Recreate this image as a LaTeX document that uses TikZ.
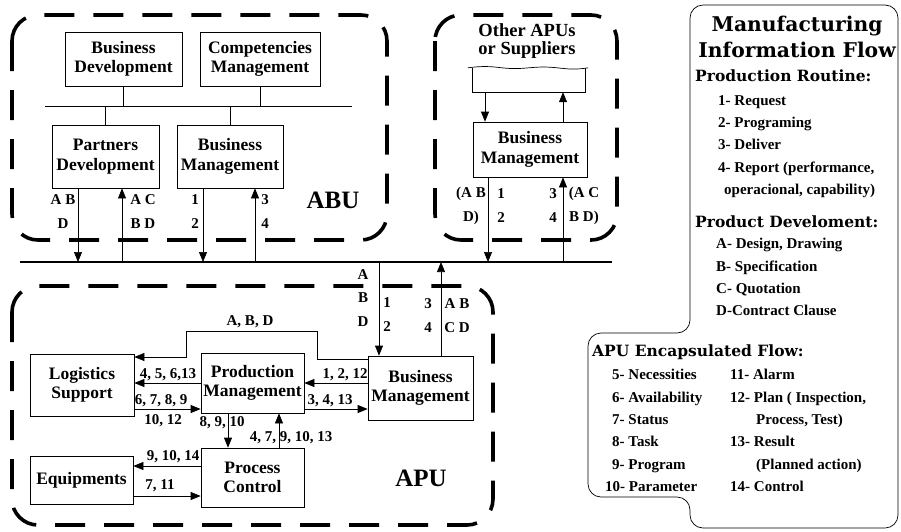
\documentclass[tikz,border=0pt]{standalone}
\usepackage{fontspec}
\setmainfont{Liberation Serif}
\newfontfamily\headfont{DejaVu Serif}
\usetikzlibrary{arrows.meta}
\tikzset{
  unit/.style={draw,line width=0.7pt,inner sep=0pt,align=center,
    font=\bfseries\fontsize{17.5}{19.5}\selectfont},
  zone/.style={line width=3.6pt,dash pattern=on 30pt off 19pt,rounded corners=26pt},
  link/.style={line width=0.7pt},
  bus/.style={line width=2pt},
  flow/.style={-{Triangle[length=10pt,width=8pt]},line width=0.7pt},
  lbl/.style={inner sep=0pt,align=center,font=\bfseries\fontsize{15}{24}\selectfont},
  tag/.style={inner sep=0pt,font=\bfseries\fontsize{25}{28}\selectfont},
  legend/.style={inner sep=0pt,anchor=west,align=left,
    font=\bfseries\fontsize{15}{22.4}\selectfont},
  legendhead/.style={inner sep=0pt,anchor=west,font=\headfont\bfseries\fontsize{15.5}{20}\selectfont}
}

\begin{document}
\begin{tikzpicture}[x=1pt,y=-1pt]
  \useasboundingbox (0,0) rectangle (901,531);
  % ABU
  \draw[zone] (12,15) rectangle (387,240);
  \node[unit,minimum width=117pt,minimum height=54pt] (bd) at (123.5,59) {Business\\Development};
  \node[unit,minimum width=120pt,minimum height=54pt] (cm) at (260,59) {Competencies\\Management};
  \node[unit,minimum width=107pt,minimum height=63pt] (pd) at (105.5,156.5) {Partners\\Development};
  \node[unit,minimum width=106pt,minimum height=63pt] (abm) at (230,156.5) {Business\\Management};
  \coordinate (orgL) at (45,106);
  \coordinate (orgR) at (352,106);
  \draw[link] (orgL) -- (orgR);
  \draw[link] (bd.south) -- (bd.south |- orgL);
  \draw[link] (cm.south) -- (cm.south |- orgL);
  \draw[link] (pd.north) -- (pd.north |- orgL);
  \draw[link] (abm.north) -- (abm.north |- orgL);
  \node[tag] (abu) at (333,200) {ABU};

  \coordinate (busL) at (20,262);
  \coordinate (busR) at (612,262);
  \draw[bus] (busL) -- (busR);

  \draw[flow] (pd.south -| 78,0) -- (busL -| 78,0);
  \draw[flow] (busL -| 122,0) -- (pd.south -| 122,0);
  \draw[flow] (abm.south -| 203,0) -- (busL -| 203,0);
  \draw[flow] (busL -| 255,0) -- (abm.south -| 255,0);
  \node[lbl] (abuab) at (63,212) {A B\\D};
  \node[lbl] (abuac) at (143,212) {A C\\B D};
  \node[lbl] (abu12) at (195,212) {1\\2};
  \node[lbl] (abu34) at (265,212) {3\\4};

  % other APUs
  \draw[zone] (435,15) rectangle (617,240);
  \node[inner sep=0pt,align=center,font=\bfseries\fontsize{18.5}{18}\selectfont] (other) at (527,41) {Other APUs\\or Suppliers};
  \node[minimum width=112pt,minimum height=24pt,inner sep=0pt] (src) at (529,80) {};
  \draw[link] (src.north west) -- (src.south west) -- (src.south east) -- (src.north east);
  \draw[link] ([xshift=-5pt]src.north west) .. controls +(30,-4) and +(-30,3) .. (src.north)
    .. controls +(30,-3) and +(-25,4) .. ([xshift=3pt]src.north east);
  \node[unit,minimum width=114pt,minimum height=55pt] (obm) at (530,149.5) {Business\\Management};
  \draw[flow] (src.south -| 485,0) -- (obm.north -| 485,0);
  \draw[flow] (obm.north -| 563,0) -- (src.south -| 563,0);
  \draw[flow] (obm.south -| 488,0) -- (busL -| 488,0);
  \draw[flow] (busR -| 563,0) -- (obm.south -| 563,0);
  \node[lbl] (oab) at (471,206) {(A B\\D)};
  \node[lbl] (o12) at (501,206) {1\\2};
  \node[lbl] (o34) at (553,206) {3\\4};
  \node[lbl] (oac) at (584,206) {(A C\\B D)};

  % APU
  \draw[zone] (12,286) rectangle (493,525);
  \node[unit,minimum width=104pt,minimum height=62pt] (ls) at (82,385) {Logistics\\Support};
  \node[unit,minimum width=103pt,minimum height=60pt] (pm) at (252.5,383) {Production\\Management};
  \node[unit,minimum width=105pt,minimum height=64pt] (bbm) at (420.5,388) {Business\\Management};
  \node[unit,minimum width=103pt,minimum height=48pt] (eq) at (81.5,480) {Equipments};
  \node[unit,minimum width=103pt,minimum height=59pt] (pc) at (252.5,477.5) {Process\\Control};
  \node[tag] (apu) at (421,478) {APU};

  \draw[flow] (bbm.west |- 0,359) -- (317,359) -- (317,331) -- (186,331) -- (186,357) -- (ls.east |- 0,357);
  \node[lbl] (abd) at (250,322) {A, B, D};
  \draw[flow] (pm.west |- 0,383) -- (ls.east |- 0,383);
  \node[lbl] (l4) at (168,375) {4, 5, 6,13};
  \draw[flow] (ls.east |- 0,409) -- (pm.west |- 0,409);
  \node[lbl] (l6) at (161,401) {6, 7, 8, 9};
  \node[lbl] (l10) at (163,421) {10, 12};
  \draw[flow] (bbm.west |- 0,383) -- (pm.east |- 0,383);
  \node[lbl] (l1) at (345,375) {1, 2, 12};
  \draw[flow] (pm.east |- 0,409) -- (bbm.west |- 0,409);
  \node[lbl] (l3) at (330,401) {3, 4, 13};
  \draw[flow] (pm.south -| 228,0) -- (pc.north -| 228,0);
  \node[lbl] (l8) at (222,423) {8, 9, 10};
  \draw[flow] (pc.north -| 279,0) -- (pm.south -| 279,0);
  \node[lbl] (l47) at (291,438) {4, 7, 9, 10, 13};
  \draw[flow] (pc.west |- 0,466) -- (eq.east |- 0,466);
  \node[lbl] (l9) at (173,457) {9, 10, 14};
  \draw[flow] (eq.east |- 0,496) -- (pc.west |- 0,496);
  \node[lbl] (l7) at (160,486) {7, 11};

  \draw[flow] (busL -| 379,0) -- (bbm.north -| 379,0);
  \draw[flow] (bbm.north -| 441,0) -- (busL -| 441,0);
  \node[lbl,font=\bfseries\fontsize{15}{23.5}\selectfont] (aabd) at (363,298) {A\\B\\D};
  \node[lbl] (a12) at (387,315) {1\\2};
  \node[lbl] (a34) at (428,316) {3\\4};
  \node[lbl] (aabcd) at (457,316) {A B\\C D};

  % legend
  \draw[link,rounded corners=13pt] (690,5) -- (898,5) -- (898,528) -- (690,528) -- (690,497)
    -- (588,497) -- (588,333) -- (690,333) -- cycle;
  \node[inner sep=0pt,align=center,font=\headfont\bfseries\fontsize{20.3}{26.5}\selectfont] (title) at (797,37) {Manufacturing\\Information Flow};
  \node[legendhead] (routine) at (695,76) {Production Routine:};
  \node[legend,anchor=north west] (routinelist) at (718,95) {1- Request\\2- Programing\\3- Deliver\\4- Report (performance,\\\hspace{6pt}operacional, capability)};
  \node[legendhead] (product) at (695,222) {Product Develoment:};
  \node[legend,anchor=north west] (productlist) at (716,238) {A- Design, Drawing\\B- Specification\\C- Quotation\\D-Contract Clause};
  \node[legendhead] (encap) at (592,352) {APU Encapsulated Flow:};
  \node[legend,anchor=north west] (encapa) at (605,369) {\hspace{7pt}5- Necessities\\\hspace{7pt}6- Availability\\\hspace{7pt}7- Status\\\hspace{7pt}8- Task\\\hspace{7pt}9- Program\\10- Parameter};
  \node[legend,anchor=north west] (encapb) at (730,369) {11- Alarm\\12- Plan ( Inspection,\\\hspace{26pt}Process, Test)\\13- Result\\\hspace{26pt}(Planned action)\\14- Control};
\end{tikzpicture}
\end{document}
